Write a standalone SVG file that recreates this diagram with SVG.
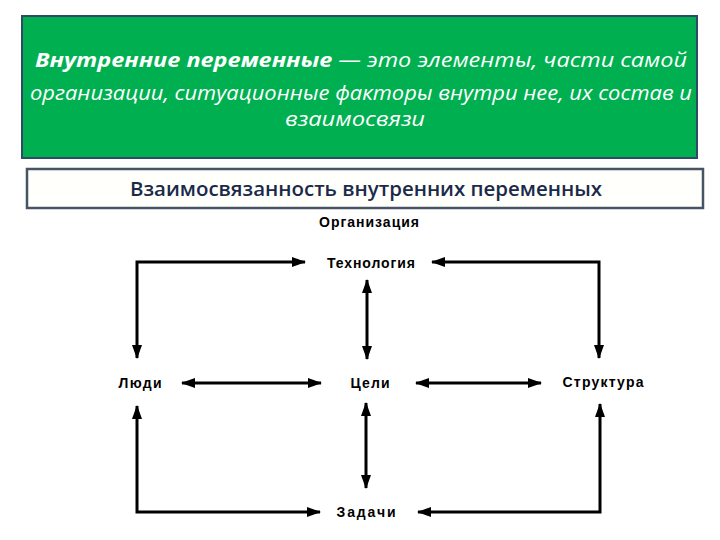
<svg xmlns="http://www.w3.org/2000/svg" width="720" height="540" viewBox="0 0 720 540">
<defs>
<marker id="ah" viewBox="0 0 14 10" refX="13" refY="5" markerWidth="14" markerHeight="10" markerUnits="userSpaceOnUse" orient="auto-start-reverse">
<path d="M0,0 L14,5 L0,10 Z" fill="#000"/>
</marker>
<style>
.hdr{fill:#fff;font-family:"Open Sans","Liberation Sans",sans-serif;font-style:italic;font-size:20px}
.ttl{fill:#1b2a4a;font-family:"Open Sans","Liberation Sans",sans-serif;font-size:19px;font-weight:600}
.lbl{fill:#000;font-family:"Liberation Sans",Arial,sans-serif;font-size:14px;font-weight:bold}
.cn{fill:none;stroke:#000;stroke-width:3}
</style>
</defs>
<rect width="720" height="540" fill="#fff"/>
<g id="header">
<rect x="22" y="16" width="675" height="142" fill="#00b050" stroke="#2f4a66" stroke-width="2"/>
<text class="hdr" x="361" y="67" text-anchor="middle" textLength="652" lengthAdjust="spacingAndGlyphs"><tspan font-weight="bold">Внутренние переменные</tspan> — это элементы, части самой</text>
<text class="hdr" x="361" y="100" text-anchor="middle" textLength="662" lengthAdjust="spacingAndGlyphs">организации, ситуационные факторы внутри нее, их состав и</text>
<text class="hdr" x="355" y="126" text-anchor="middle" textLength="140" lengthAdjust="spacingAndGlyphs">взаимосвязи</text>
</g>
<g id="title">
<rect x="27" y="169" width="676" height="39" fill="#fffffb" stroke="#465466" stroke-width="2.5"/>
<text class="ttl" x="366" y="196" text-anchor="middle" textLength="472" lengthAdjust="spacingAndGlyphs">Взаимосвязанность внутренних переменных</text>
</g>
<g id="n-org"><text class="lbl" x="369" y="227" text-anchor="middle" textLength="100" lengthAdjust="spacing">Организация</text></g>
<g id="n-tech"><text class="lbl" x="371" y="268" text-anchor="middle" textLength="88" lengthAdjust="spacing">Технология</text></g>
<g id="n-people"><text class="lbl" x="140" y="388" text-anchor="middle" textLength="43" lengthAdjust="spacing">Люди</text></g>
<g id="n-goals"><text class="lbl" x="370" y="388" text-anchor="middle" textLength="39" lengthAdjust="spacing">Цели</text></g>
<g id="n-struct"><text class="lbl" x="603" y="387" text-anchor="middle" textLength="81" lengthAdjust="spacing">Структура</text></g>
<g id="n-tasks"><text class="lbl" x="366" y="517" text-anchor="middle" textLength="59" lengthAdjust="spacing">Задачи</text></g>
<g id="connectors">
<path class="cn" d="M305,262 H137 V358" marker-start="url(#ah)" marker-end="url(#ah)"/>
<path class="cn" d="M432,262 H599 V358" marker-start="url(#ah)" marker-end="url(#ah)"/>
<path class="cn" d="M367,280 V359" marker-start="url(#ah)" marker-end="url(#ah)"/>
<path class="cn" d="M182,383 H321" marker-start="url(#ah)" marker-end="url(#ah)"/>
<path class="cn" d="M416,383 H541" marker-start="url(#ah)" marker-end="url(#ah)"/>
<path class="cn" d="M366,403 V488" marker-start="url(#ah)" marker-end="url(#ah)"/>
<path class="cn" d="M137,406 V512 H320" marker-start="url(#ah)" marker-end="url(#ah)"/>
<path class="cn" d="M600,404 V512 H418" marker-start="url(#ah)" marker-end="url(#ah)"/>
</g>
</svg>
